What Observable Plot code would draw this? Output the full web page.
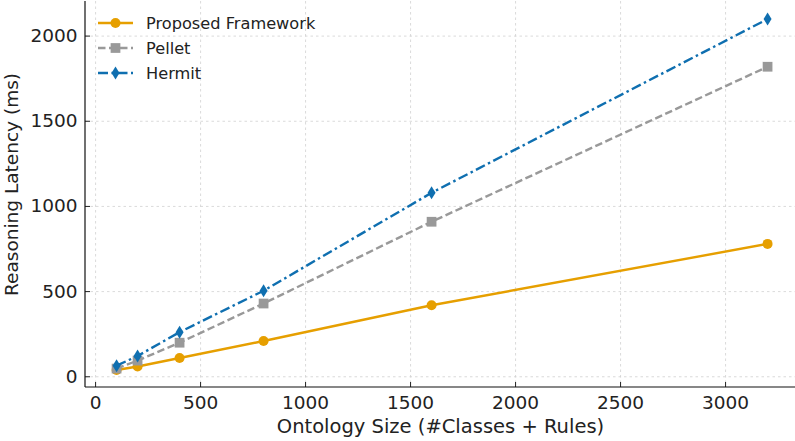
<!DOCTYPE html>
<html>
<head>
<meta charset="utf-8">
<script src="https://cdn.jsdelivr.net/npm/d3@7"></script>
<script src="https://cdn.jsdelivr.net/npm/@observablehq/plot@0.6"></script>
<style>
  html, body { margin: 0; padding: 0; background: #fff; }
  #chart { position: relative; width: 795px; height: 441px; }
</style>
</head>
<body>
<div id="chart"></div>
<script>
// Ontology sizes (#classes + rules) and reasoning latency (ms) per reasoner
const sizes = [100, 200, 400, 800, 1600, 3200];
const proposed = [40, 60, 110, 210, 420, 780];
const pellet = [48, 95, 200, 430, 910, 1820];
const hermit = [65, 122, 262, 505, 1080, 2100];
const seriesNames = ["Proposed Framework", "Pellet", "Hermit"];
const xTicks = [0, 500, 1000, 1500, 2000, 2500, 3000];
const yTicks = [0, 500, 1000, 1500, 2000];
const xLabel = "Ontology Size (#Classes + Rules)";
const yLabel = "Reasoning Latency (ms)";

// Thin (tall) diamond marker
const thinDiamond = {
  draw(context, size) {
    const r = Math.sqrt(size / Math.PI);
    const hw = r * 0.8, hh = r * 1.3;
    context.moveTo(0, -hh);
    context.lineTo(hw, 0);
    context.lineTo(0, hh);
    context.lineTo(-hw, 0);
    context.closePath();
  }
};

const styles = [
  {color: "#E69F00", dash: null, symbol: "circle", r: 5},
  {color: "#999999", dash: "7.5,3.5", symbol: "square", r: 5.5},
  {color: "#0F6FB0", dash: "10,3.5,2.5,3.5", symbol: thinDiamond, r: 5}
];

const values = [proposed, pellet, hermit];
const series = seriesNames.map((name, i) => ({
  name,
  style: styles[i],
  rows: sizes.map((x, j) => ({x, y: values[i][j]}))
}));

const font = "DejaVu Sans, sans-serif";

const marks = [
  Plot.gridX(xTicks, {stroke: "#d0d0d0", strokeOpacity: 1, strokeDasharray: "2.5,3", strokeWidth: 0.8}),
  Plot.gridY(yTicks, {stroke: "#d0d0d0", strokeOpacity: 1, strokeDasharray: "2.5,3", strokeWidth: 0.8}),
  Plot.axisX(xTicks, {tickSize: 0, tickPadding: 8, label: null, tickFormat: d => String(d), fill: "#222"}),
  Plot.axisY(yTicks, {tickSize: 0, tickPadding: 8, label: null, tickFormat: d => String(d), fill: "#222"}),
  // inward tick marks
  Plot.tickX(xTicks, {x: d => d, insetTop: 381, stroke: "#222", strokeWidth: 1}),
  Plot.tickY(yTicks, {y: d => d, insetRight: 705, stroke: "#222", strokeWidth: 1}),
];

for (const s of series) {
  marks.push(Plot.line(s.rows, {
    x: "x", y: "y", stroke: s.style.color, strokeWidth: 2.4,
    strokeDasharray: s.style.dash, strokeLinecap: "butt"
  }));
  marks.push(Plot.dot(s.rows, {
    x: "x", y: "y", fill: s.style.color, stroke: "none",
    r: s.style.r, symbol: () => s.style.symbol
  }));
}

marks.push(
  Plot.text([yLabel], {frameAnchor: "left", textAnchor: "middle", lineAnchor: "middle",
    dx: -73, dy: -10, rotate: -90, fill: "#222", fontSize: 18.5}),
  Plot.text([xLabel], {frameAnchor: "bottom", textAnchor: "middle", lineAnchor: "middle",
    dy: 39.5, fill: "#222", fontSize: 19.5})
);

const chart = Plot.plot({
  width: 795,
  height: 441,
  marginLeft: 85,
  marginRight: 0,
  marginTop: 1,
  marginBottom: 54,
  style: {fontFamily: font, fontSize: "18.5px", background: "#fff", color: "#222", overflow: "visible"},
  x: {domain: [-48, 3333]},
  y: {domain: [-63, 2203]},
  symbol: {type: "identity"},
  marks
});

document.getElementById("chart").appendChild(chart);

// Left and bottom spines
const svg = d3.select(chart);
const L = 85, B = 441 - 54;
svg.append("line").attr("x1", L).attr("x2", L).attr("y1", 1).attr("y2", B)
  .attr("stroke", "#111").attr("stroke-width", 1.2);
svg.append("line").attr("x1", L).attr("x2", 795).attr("y1", B).attr("y2", B)
  .attr("stroke", "#111").attr("stroke-width", 1.2);

// Legend
const legend = svg.append("g")
  .style("font-family", font).style("font-size", "16.2px");
series.forEach((s, i) => {
  const y = 23 + i * 25;
  const g = legend.append("g").attr("transform", `translate(98,${y})`);
  g.append("line").attr("x1", 0).attr("x2", 35).attr("y1", 0).attr("y2", 0)
    .attr("stroke", s.style.color).attr("stroke-width", 2.4)
    .attr("stroke-dasharray", s.style.dash);
  const type = s.style.symbol === "circle" ? d3.symbolCircle
    : s.style.symbol === "square" ? d3.symbolSquare : s.style.symbol;
  const r = s.style.r;
  g.append("path").attr("transform", "translate(17.5,0)")
    .attr("d", d3.symbol(type, r * r * Math.PI)())
    .attr("fill", s.style.color);
  g.append("text").attr("x", 48).attr("y", 0).attr("dy", "0.35em")
    .style("text-anchor", "start")
    .attr("fill", "#222").text(s.name);
});
</script>
</body>
</html>
